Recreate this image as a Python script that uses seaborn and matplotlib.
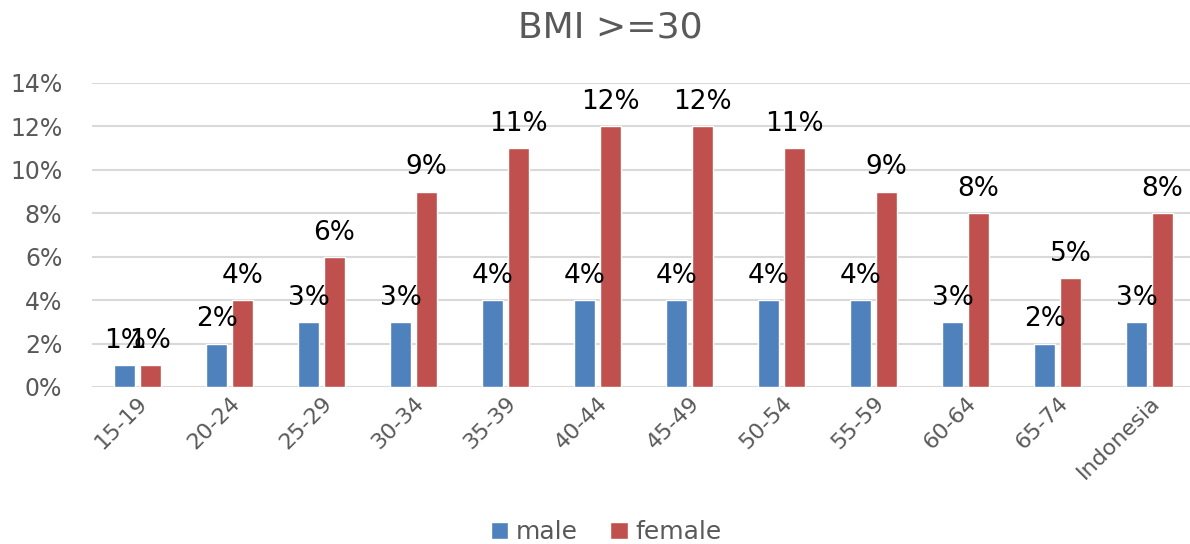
"""
BMI >=30 share by age group, male vs female (grouped bar chart).
"""

import pandas as pd
import matplotlib.pyplot as plt
import seaborn as sns
from matplotlib.ticker import PercentFormatter
from matplotlib.patches import Patch

# Data
age_groups = ['15-19', '20-24', '25-29', '30-34', '35-39', '40-44',
              '45-49', '50-54', '55-59', '60-64', '65-74', 'Indonesia']
male = [0.01, 0.02, 0.03, 0.03, 0.04, 0.04, 0.04, 0.04, 0.04, 0.03, 0.02, 0.03]
female = [0.01, 0.04, 0.06, 0.09, 0.11, 0.12, 0.12, 0.11, 0.09, 0.08, 0.05, 0.08]
series = ['male', 'female']
colors = {'male': '#4f81bd', 'female': '#c0504d'}

df = pd.DataFrame({
    'group': age_groups * 2,
    'sex': ['male'] * len(male) + ['female'] * len(female),
    'value': male + female,
})

sns.set_style("white")
plt.rcParams['font.family'] = ['DejaVu Sans']

W, H = 1190, 544
fig = plt.figure(figsize=(W / 100, H / 100), dpi=100)
# plot area in pixels: left 91.5, width 1104 (runs slightly past right edge), 0% at y=387, 14% at y=83
ax = fig.add_axes([91.5 / W, (H - 387) / H, 1104 / W, 304 / H])

sns.barplot(data=df, x='group', y='value', hue='sex', hue_order=series,
            palette=colors, width=0.56, gap=0.2, saturation=1,
            legend=False, ax=ax)

ax.set_ylim(0, 0.14)
ax.set_xlim(-0.5, len(age_groups) - 0.5)
ax.set_yticks([i / 100 for i in range(0, 15, 2)])
ax.yaxis.set_major_formatter(PercentFormatter(1.0, decimals=0))
ax.grid(axis='y', color='#d9d9d9', linewidth=1.5)
ax.set_axisbelow(True)
for s in ax.spines.values():
    s.set_visible(False)

ax.set_xlabel('')
ax.set_ylabel('')
ax.tick_params(axis='y', length=0, labelsize=17, labelcolor='#595959', pad=21)
ax.tick_params(axis='x', length=0, labelsize=16, labelcolor='#595959', pad=4)
plt.setp(ax.get_xticklabels(), rotation=45, ha='right', rotation_mode='anchor')

# data labels
for cont in ax.containers:
    ax.bar_label(cont, labels=[f"{v * 100:.0f}%" for v in cont.datavalues],
                 fontsize=19, color='black', padding=8)

fig.text(610 / W, 1 - 27 / H, 'BMI >=30', ha='center', va='center',
         fontsize=26, color='#595959')

handles = [Patch(facecolor=colors[s], label=s) for s in series]
fig.legend(handles=handles, loc='center', bbox_to_anchor=(606 / W, 1 - 532 / H),
           ncol=2, frameon=False, fontsize=18, labelcolor='#595959',
           handlelength=0.7, handleheight=0.7, handletextpad=0.3, columnspacing=1.3)

fig.savefig('out.png', dpi=100)
